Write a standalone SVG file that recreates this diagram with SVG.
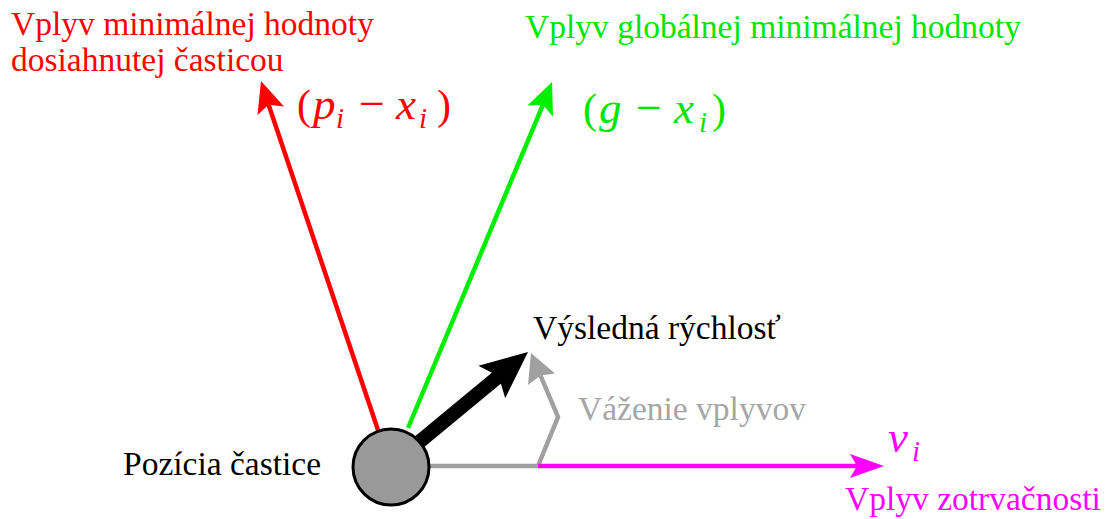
<svg xmlns="http://www.w3.org/2000/svg" width="1107" height="519" viewBox="0 0 1107 519">
<style>
text{font-family:'Liberation Serif','DejaVu Serif',serif}
.lbl{font-size:33.5px}
.m{font-size:42px}
.mi{font-style:italic;font-size:45px}
.op{font-size:46px}
.sub{font-style:italic;font-size:29px}
</style>
<rect width="1107" height="519" fill="#ffffff"/>
<g id="connectors">
  <g id="edge-red">
    <line x1="378" y1="430" x2="268.6" y2="104.8" stroke="#ff0000" stroke-width="4.5"/>
    <polygon points="261,81 284,106.5 268.6,104.8 257.5,115" fill="#ff0000"/>
  </g>
  <g id="edge-green">
    <line x1="408" y1="428" x2="542.8" y2="105.1" stroke="#00ee00" stroke-width="4.5"/>
    <polygon points="552,82 553,116.5 542.8,105.1 527.5,105.5" fill="#00ee00"/>
  </g>
  <g id="edge-gray">
    <polyline points="430,466 538,466 558,417 540.5,375.5" fill="none" stroke="#a0a0a0" stroke-width="4.5" stroke-linejoin="miter"/>
    <polygon points="531,353 555,373.4 540.5,375.5 528,385" fill="#a0a0a0"/>
  </g>
  <g id="edge-magenta">
    <line x1="538" y1="466" x2="857" y2="466" stroke="#ff00ff" stroke-width="4.5"/>
    <polygon points="884,466 850,454 857,466 850,478" fill="#ff00ff"/>
  </g>
  <g id="edge-result">
    <line x1="395" y1="462" x2="499" y2="376" stroke="#000000" stroke-width="14"/>
    <polygon points="528,352 505.2,398.2 498.7,376.2 478.4,365.8" fill="#000000"/>
  </g>
</g>
<g id="particle">
  <circle cx="391" cy="467" r="38" fill="#999999" stroke="#000000" stroke-width="3"/>
</g>
<g id="label-particle" fill="#000000">
  <text class="lbl" x="123" y="475">Pozícia častice</text>
</g>
<g id="label-personal" fill="#ff0000">
  <text class="lbl" x="11" y="35">Vplyv minimálnej hodnoty</text>
  <text class="lbl" x="11" y="71">dosiahnutej časticou</text>
  <text class="m" y="119"><tspan x="297">(</tspan><tspan class="mi" x="313">p</tspan><tspan class="sub" x="336" dy="9">i</tspan><tspan class="op" x="359" dy="-9">−</tspan><tspan class="mi" x="396">x</tspan><tspan class="sub" x="419" dy="9">i</tspan><tspan x="437" dy="-9">)</tspan></text>
</g>
<g id="label-global" fill="#00e600">
  <text class="lbl" x="525" y="38">Vplyv globálnej minimálnej hodnoty</text>
  <text class="m" y="123"><tspan x="583">(</tspan><tspan class="mi" x="599">g</tspan><tspan class="op" x="636">−</tspan><tspan class="mi" x="674">x</tspan><tspan class="sub" x="699" dy="9">i</tspan><tspan x="712" dy="-9">)</tspan></text>
</g>
<g id="label-result" fill="#000000">
  <text class="lbl" x="533" y="339">Výsledná rýchlosť</text>
</g>
<g id="label-weights" fill="#a6a6a6">
  <text class="lbl" x="578" y="420">Váženie vplyvov</text>
</g>
<g id="label-inertia" fill="#ff00ff">
  <text class="m" y="452"><tspan class="mi" x="888">v</tspan><tspan class="sub" x="912" dy="9">i</tspan></text>
  <text class="lbl" x="845" y="510">Vplyv zotrvačnosti</text>
</g>
</svg>
